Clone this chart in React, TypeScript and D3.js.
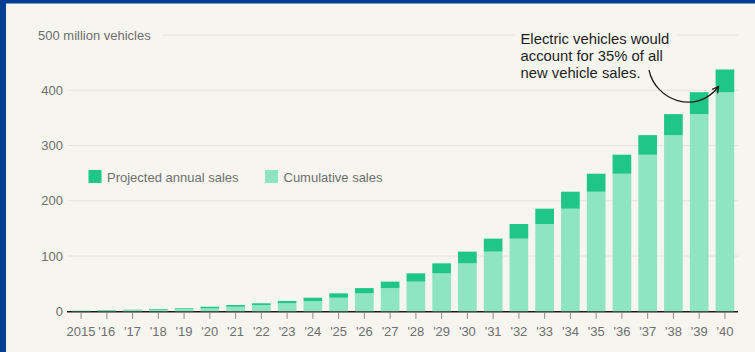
import React from "react";
import * as d3 from "d3";

const years = ["2015","'16","'17","'18","'19","'20","'21","'22","'23","'24","'25","'26","'27","'28","'29","'30","'31","'32","'33","'34","'35","'36","'37","'38","'39","'40"];
const cumulative = [0.4, 1.0, 2.0, 2.8, 4.0, 5.4, 8.3, 11.4, 14.5, 18.6, 24.6, 32.5, 42.0, 53.7, 68.7, 86.8, 108.0, 131.5, 158.0, 185.7, 216.4, 249.0, 283.4, 318.8, 356.8, 396.5];
const annual = [0.6, 1.0, 0.8, 1.2, 1.4, 2.9, 3.1, 3.1, 4.1, 6.0, 7.9, 9.5, 11.7, 15.0, 18.1, 21.2, 23.5, 26.5, 27.7, 30.7, 32.6, 34.4, 35.4, 38.0, 39.7, 41.1];
const yTicks = [0, 100, 200, 300, 400, 500];
const legendItems = ["Projected annual sales", "Cumulative sales"];
const annotationLines = ["Electric vehicles would", "account for 35% of all", "new vehicle sales."];

const W = 755;
const H = 352;
const BG = "#f7f5f0";
const BLUE = "#003e92";
const DARK = "#1fc688";
const LIGHT = "#8fe4c2";
const FONT = "'Liberation Sans', Arial, sans-serif";

export default function App() {
  const x = d3.scaleBand<string>().domain(years).range([68.2, 737.8]).paddingInner(0.275).paddingOuter(0.1375);
  const y = d3.scaleLinear().domain([0, 500]).range([311.3, 35]);
  const bw = x.bandwidth();

  const last = years.length - 1;
  const arrowEnd: [number, number] = [(x(years[last]) as number) + 3, y(cumulative[last] + annual[last]) + 17];
  const arrowStart: [number, number] = [649, 70];
  const c1: [number, number] = [655, 100];
  const c2: [number, number] = [696, 116];
  const path = d3.path();
  path.moveTo(arrowStart[0], arrowStart[1]);
  path.bezierCurveTo(c1[0], c1[1], c2[0], c2[1], arrowEnd[0], arrowEnd[1]);
  const ang = Math.atan2(arrowEnd[1] - c2[1], arrowEnd[0] - c2[0]);
  const ah = 7;
  const head = [
    [arrowEnd[0] - ah * Math.cos(ang - 0.5), arrowEnd[1] - ah * Math.sin(ang - 0.5)],
    arrowEnd,
    [arrowEnd[0] - ah * Math.cos(ang + 0.5), arrowEnd[1] - ah * Math.sin(ang + 0.5)],
  ];

  return (
    <svg width={W} height={H} style={{ position: "absolute", left: 0, top: 0, display: "block" }} fontFamily={FONT}>
      <rect x={0} y={0} width={W} height={H} fill={BG} />
      <rect x={0} y={0} width={6} height={H} fill={BLUE} />
      <rect x={0} y={0} width={W} height={3.5} fill={BLUE} />

      {/* gridlines */}
      {yTicks.filter((t) => t > 0).map((t) => (
        <line key={t} x1={t === 500 ? 162 : 68} x2={738} y1={y(t)} y2={y(t)} stroke="#e6e3dc" strokeWidth={1} />
      ))}
      {/* y labels */}
      {yTicks.map((t) =>
        t === 500 ? (
          <text key={t} x={38} y={y(t)} dy="0.35em" fontSize={13} fill="#6f6f6f">500 million vehicles</text>
        ) : (
          <text key={t} x={63} y={y(t)} dy="0.35em" fontSize={13} fill="#6f6f6f" textAnchor="end">{t}</text>
        )
      )}

      {/* baseline */}
      <line x1={67} x2={738} y1={y(0) + 0.5} y2={y(0) + 0.5} stroke="#1a1a1a" strokeWidth={1.5} />
      {/* ticks and labels */}
      {years.map((yr) => {
        const cx = (x(yr) as number) + bw / 2;
        return (
          <g key={yr}>
            <line x1={cx} x2={cx} y1={y(0) + 1} y2={y(0) + 7.5} stroke="#8a8a8a" strokeWidth={1} />
            <text x={cx} y={331} dy="0.35em" fontSize={13} fill="#707070" textAnchor="middle">{yr}</text>
          </g>
        );
      })}

      {/* bars */}
      {years.map((yr, i) => {
        const bx = x(yr) as number;
        const c = cumulative[i];
        const t = c + annual[i];
        return (
          <g key={yr}>
            <rect x={bx} width={bw} y={y(c)} height={y(0) - y(c)} fill={LIGHT} />
            <rect x={bx} width={bw} y={y(t)} height={y(c) - y(t)} fill={DARK} />
          </g>
        );
      })}

      {/* legend */}
      <rect x={88.5} y={170} width={13} height={13} fill={DARK} />
      <text x={107} y={177} dy="0.35em" fontSize={13} fill="#6f6f6f">{legendItems[0]}</text>
      <rect x={265} y={170} width={13} height={13} fill={LIGHT} />
      <text x={283.5} y={177} dy="0.35em" fontSize={13} fill="#6f6f6f">{legendItems[1]}</text>

      {/* annotation */}
      <rect x={515} y={26} width={162} height={56} fill={BG} />
      {annotationLines.map((l, i) => (
        <text key={i} x={520.5} y={39 + i * 16.7} dy="0.35em" fontSize={14.8} fill="#1e1e1e">{l}</text>
      ))}
      <path d={path.toString()} fill="none" stroke="#1e1e1e" strokeWidth={1.3} />
      <polyline points={head.map((p) => p.join(",")).join(" ")} fill="none" stroke="#1e1e1e" strokeWidth={1.3} />
    </svg>
  );
}
